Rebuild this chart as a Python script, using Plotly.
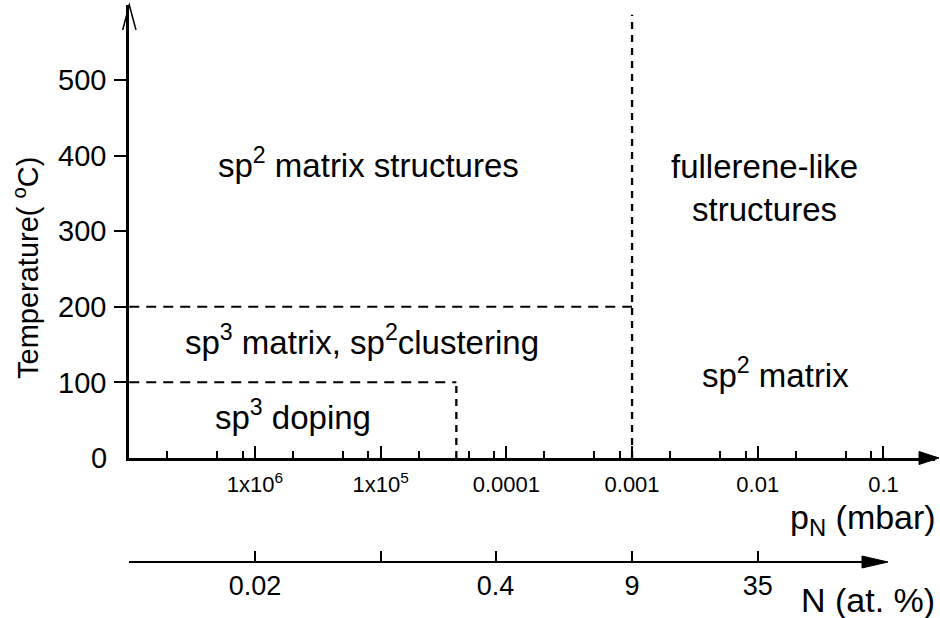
import plotly.graph_objects as go

# ---------------- data ----------------
# pressure axis (p_N, mbar) major ticks and labels
p_major_vals = [1e-6, 1e-5, 1e-4, 1e-3, 1e-2, 1e-1]
p_major_text = ["1x10<sup>6</sup>", "1x10<sup>5</sup>", "0.0001", "0.001", "0.01", "0.1"]
p_minor_vals = [m * 10.0 ** e for e in range(-7, -1) for m in (2, 5, 8)]

# nitrogen content axis (N at.%) tick positions on the pressure scale and labels
n_tick_p = [1e-6, 1e-5, 8.2e-5, 1e-3, 1e-2]
n_tick_text = ["0.02", "", "0.4", "9", "35"]

# temperature ticks
t_tick_vals = [100, 200, 300, 400, 500]

# phase boundaries
p_min = 1e-7            # left end of pressure axis
p_fullerene = 1e-3      # vertical boundary (fullerene-like / sp2 matrix)
p_doping = 4e-5         # vertical boundary of sp3 doping region
T_high = 200            # sp2 matrix structures / sp3 matrix boundary
T_low = 100             # sp3 doping upper boundary
T_top = 586             # top of the vertical boundary line

# ---------------- geometry helpers ----------------
W, H = 940, 618
ML, MR, MT, MB = 129, 5, 5, 0
PW, PH = W - ML - MR, H - MT - MB


def px(xp):
    return (xp - ML) / PW


def py(yp):
    return (H - yp) / PH


X_RANGE = [-7.002, -0.59]
DEC = PW / (X_RANGE[1] - X_RANGE[0])
Y0_PIX = 458
Y_DOMAIN = [py(Y0_PIX), 1.0]
Y_RANGE = [0, 599]

FONT = "Liberation Sans, Arial, Helvetica, sans-serif"

fig = go.Figure()

# invisible trace to activate the N(at.%) axis
fig.add_trace(go.Scatter(x=[n_tick_p[0]], y=[0], xaxis="x2", yaxis="y", mode="markers",
                         marker=dict(opacity=0), hoverinfo="skip"))
# dashed horizontal boundaries
fig.add_trace(go.Scatter(x=[p_min, p_fullerene], y=[T_high, T_high], mode="lines",
                         line=dict(color="black", width=2, dash="10px,7px"),
                         hoverinfo="skip", cliponaxis=False))
fig.add_trace(go.Scatter(x=[p_min, p_doping], y=[T_low, T_low], mode="lines",
                         line=dict(color="black", width=2, dash="10px,7px"),
                         hoverinfo="skip", cliponaxis=False))
# dashed vertical boundaries
fig.add_trace(go.Scatter(x=[p_doping, p_doping], y=[0, T_low], mode="lines",
                         line=dict(color="black", width=2.3, dash="7px,6px"),
                         hoverinfo="skip", cliponaxis=False))
fig.add_trace(go.Scatter(x=[p_fullerene, p_fullerene], y=[0, T_top], mode="lines",
                         line=dict(color="black", width=2.3, dash="7px,6px"),
                         hoverinfo="skip", cliponaxis=False))

x2_end_pix = 885
x2_range = [X_RANGE[0], X_RANGE[0] + (x2_end_pix - ML) / DEC]

fig.update_layout(
    width=W, height=H, autosize=False,
    margin=dict(l=ML, r=MR, t=MT, b=MB, pad=0),
    paper_bgcolor="white", plot_bgcolor="rgba(0,0,0,0)",
    showlegend=False,
    font=dict(family=FONT, color="black"),
    xaxis=dict(
        type="log", range=X_RANGE, domain=[0, 1], anchor="y",
        showline=True, linecolor="black", linewidth=2.5,
        showgrid=False, zeroline=False, layer="above traces",
        ticks="inside", ticklen=12, tickwidth=1.5, tickcolor="black",
        tickmode="array", tickvals=p_major_vals, ticktext=p_major_text,
        tickfont=dict(size=22, family=FONT), ticklabelstandoff=5,
        minor=dict(ticks="inside", ticklen=7, tickwidth=1.5, tickcolor="black",
                   tickmode="array", tickvals=p_minor_vals, showgrid=False),
    ),
    xaxis2=dict(
        type="log", range=x2_range, domain=[0, px(x2_end_pix)], anchor="free",
        position=py(562),
        showline=True, linecolor="black", linewidth=2,
        showgrid=False, zeroline=False,
        ticks="inside", ticklen=10, tickwidth=1.5, tickcolor="black",
        tickmode="array", tickvals=n_tick_p, ticktext=n_tick_text,
        tickfont=dict(size=27, family=FONT), ticklabelstandoff=0,
    ),
    yaxis=dict(
        range=Y_RANGE, domain=Y_DOMAIN, anchor="x",
        showline=True, linecolor="black", linewidth=2.5,
        showgrid=False, zeroline=False,
        ticks="outside", ticklen=12, tickwidth=1.5, tickcolor="black",
        tickmode="array", tickvals=t_tick_vals,
        tickfont=dict(size=29, family=FONT), ticklabelstandoff=2,
    ),
)

# region labels
def lx(xpix):
    return X_RANGE[0] + (xpix - ML) / DEC


def ly(ypix):
    return (Y0_PIX - ypix) * (Y_RANGE[1] - Y_RANGE[0]) / (Y0_PIX - MT)


labels = [
    ("sp<sup>2</sup> matrix structures", 368, 163),
    ("fullerene-like<br>structures", 764, 188),
    ("sp<sup>3</sup> matrix, sp<sup>2</sup>clustering", 362, 340),
    ("sp<sup>2</sup> matrix", 775, 373),
    ("sp<sup>3</sup> doping", 293, 415),
]
for txt, xpx, ypx in labels:
    fig.add_annotation(x=lx(xpx), y=ly(ypx), xref="x", yref="y", text=txt,
                       showarrow=False, font=dict(size=33, family=FONT),
                       xanchor="center", yanchor="middle")

# "0" tick label on y axis
fig.add_annotation(x=px(109), y=py(458), xref="paper", yref="paper", text="0",
                   showarrow=False, font=dict(size=29, family=FONT),
                   xanchor="right", yanchor="middle")

# axis titles
fig.add_annotation(x=px(26), y=py(268), xref="paper", yref="paper",
                   text="Temperature( <sup>o</sup>C)", textangle=-90,
                   showarrow=False, font=dict(size=29, family=FONT),
                   xanchor="center", yanchor="middle")
fig.add_annotation(x=px(937), y=py(519), xref="paper", yref="paper",
                   text="p<sub>N</sub> (mbar)",
                   showarrow=False, font=dict(size=34, family=FONT),
                   xanchor="right", yanchor="middle", borderpad=0)
fig.add_annotation(x=px(937), y=py(600), xref="paper", yref="paper",
                   text="N (at. %)",
                   showarrow=False, font=dict(size=34, family=FONT),
                   xanchor="right", yanchor="middle")

# arrowheads
def path(points, close):
    s = "M " + " L ".join(f"{px(a):.5f},{py(b):.5f}" for a, b in points)
    return s + (" Z" if close else "")

# y-axis open arrow
fig.add_shape(type="path", xref="paper", yref="paper",
              path=path([(122.7, 30), (129.3, 5), (136, 30)], False),
              line=dict(color="black", width=1.5))
# x-axis filled arrow
fig.add_shape(type="path", xref="paper", yref="paper",
              path=path([(919, 451.5), (939, 458), (919, 464.5)], True),
              line=dict(color="black", width=1), fillcolor="black")
# N axis filled arrow
fig.add_shape(type="path", xref="paper", yref="paper",
              path=path([(862, 556), (888, 562), (862, 568)], True),
              line=dict(color="black", width=1), fillcolor="black")

fig.write_html("out.html")
